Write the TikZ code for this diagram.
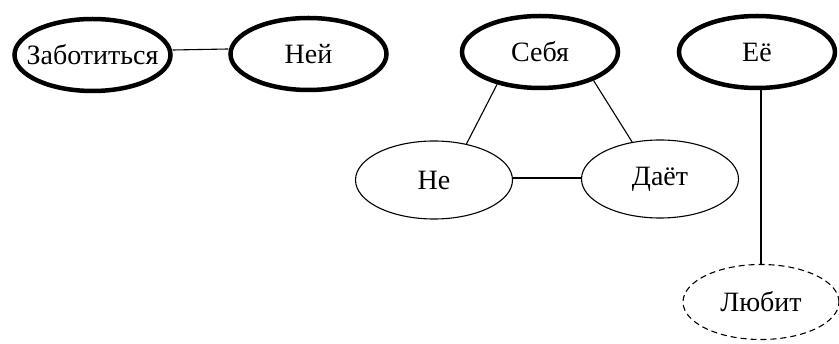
\documentclass[tikz,border=0pt]{standalone}
\usepackage{fontspec}
\setmainfont{Liberation Serif}
\usetikzlibrary{shapes.geometric}
\begin{document}
\begin{tikzpicture}[x=1pt,y=-1pt,
  % the label is set in a zero-width box so the outline keeps its given size
  word/.style={ellipse, inner sep=0pt, font=\fontsize{28}{30}\selectfont,
    execute at begin node={\hbox to 0pt\bgroup\hss},
    execute at end node={\hss\egroup}},
  keyword/.style={word, draw, line width=4.5pt, minimum width=156pt, minimum height=72pt},
  plainword/.style={word, draw, line width=1.1pt, minimum width=157pt, minimum height=78pt},
  hiddenword/.style={word, draw, line width=1.1pt, dash pattern=on 6pt off 4pt, minimum width=156pt, minimum height=75pt},
  link/.style={line width=1.1pt}]
\useasboundingbox (0,0) rectangle (839,344);

% top row of emphasised words
\node[keyword] (zab) at (92.5,55) {Заботиться};
\node[keyword] (ney) at (308.5,54) {Ней};
\node[keyword] (seb) at (540,52) {Себя};
\node[keyword] (ee)  at (757,52) {Её};

% second row
\node[plainword] (ne)  at (434,180) {Не};
\node[plainword] (dat) at (660,179) {Даёт};

% lower word with dashed outline
\node[hiddenword] (lub) at (761,302) {Любит};

% connectors
\draw[link] ([yshift=5pt]zab.east) -- ([yshift=5pt]ney.west);
\draw[link] (seb.217) -- (ne.48);
\draw[link] (seb.332) -- (dat.127);
\draw[link] ([yshift=2pt]ne.east) -- ([yshift=1pt]dat.west);
\draw[link] (lub.north) -- (lub.north |- ee.south);
\end{tikzpicture}
\end{document}
